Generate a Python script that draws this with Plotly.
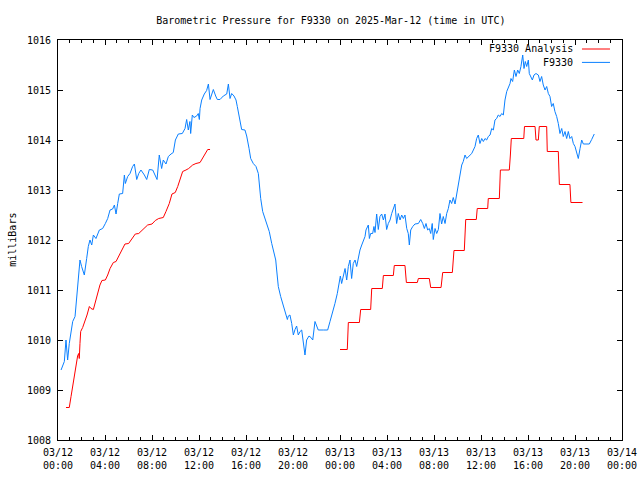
import pandas as pd
import plotly.graph_objects as go

# ---- data (hours after 2025-03-12 00:00 UTC, pressure in milliBars) ----
start_time = "2025-03-12 00:00"
x_range = ["2025-03-12 00:00", "2025-03-14 00:00"]
y_range = [1008, 1016]

station_hours = [
    0.26, 0.54, 0.68, 0.82, 0.96, 1.11, 1.25, 1.45, 1.59, 1.73, 1.87, 2.01, 2.24, 2.44, 2.58,
    2.72, 2.87, 3.01, 3.23, 3.52, 3.80, 4.03, 4.23, 4.43, 4.65, 4.80, 4.94, 5.08, 5.22, 5.50,
    5.65, 5.73, 5.93, 6.13, 6.35, 6.50, 6.70, 6.87, 7.06, 7.35, 7.55, 7.77, 8.06, 8.43, 8.62,
    8.82, 8.96, 9.19, 9.39, 9.62, 9.81, 9.99, 10.24, 10.58, 10.81, 10.95, 11.09, 11.23, 11.29,
    11.43, 11.57, 11.80, 11.94, 12.03, 12.09, 12.23, 12.45, 12.65, 12.80, 12.94, 13.11, 13.22,
    13.42, 13.56, 13.79, 14.07, 14.36, 14.50, 14.64, 14.78, 14.98, 15.15, 15.26, 15.49, 15.63,
    15.91, 16.06, 16.26, 16.40, 16.62, 16.85, 17.05, 17.13, 17.25, 17.42, 17.62, 17.81, 17.98,
    18.19, 18.38, 18.53, 18.61, 18.75, 18.95, 19.12, 19.32, 19.52, 19.60, 19.74, 19.89, 20.03,
    20.17, 20.31, 20.45, 20.60, 20.74, 20.88, 21.02, 21.16, 21.36, 21.53, 21.68, 21.87, 22.01,
    22.15, 22.58, 22.95, 23.15, 23.35, 23.57, 23.77, 23.94, 24.03, 24.14, 24.28, 24.43, 24.57,
    24.71, 24.85, 24.99, 25.13, 25.28, 25.42, 25.56, 25.70, 25.85, 25.98, 26.13, 26.21, 26.41,
    26.50, 26.61, 26.78, 26.89, 26.98, 27.12, 27.26, 27.40, 27.55, 27.69, 27.83, 27.97, 28.11,
    28.26, 28.40, 28.54, 28.68, 28.82, 28.96, 29.11, 29.25, 29.39, 29.53, 29.68, 29.81, 29.90,
    30.02, 30.19, 30.38, 30.67, 30.87, 31.04, 31.18, 31.32, 31.46, 31.60, 31.72, 31.85, 31.94,
    32.09, 32.23, 32.37, 32.51, 32.65, 32.79, 32.94, 33.08, 33.22, 33.36, 33.50, 33.64, 33.79,
    33.93, 34.07, 34.21, 34.36, 34.49, 34.64, 34.78, 34.92, 35.06, 35.21, 35.35, 35.49, 35.63,
    35.77, 35.91, 36.06, 36.20, 36.34, 36.48, 36.62, 36.77, 36.91, 37.05, 37.19, 37.33, 37.47,
    37.62, 37.76, 37.90, 38.04, 38.19, 38.32, 38.47, 38.55, 38.69, 38.84, 38.98, 39.12, 39.26,
    39.40, 39.55, 39.66, 39.77, 39.89, 40.03, 40.11, 40.23, 40.37, 40.51, 40.68, 40.88, 41.02,
    41.16, 41.30, 41.45, 41.59, 41.73, 41.87, 42.01, 42.15, 42.29, 42.44, 42.58, 42.72, 42.87,
    43.00, 43.15, 43.29, 43.43, 43.57, 43.72, 43.86, 44.00, 44.14, 44.28, 44.43, 44.57, 44.71,
    44.99, 45.22, 45.42, 45.64,
]
station_mb = [
    1009.40, 1009.57, 1010.00, 1009.60, 1009.93, 1010.20, 1010.37, 1010.47, 1010.87, 1011.20,
    1011.60, 1011.47, 1011.30, 1011.63, 1011.87, 1012.00, 1011.90, 1012.10, 1012.03, 1012.20,
    1012.23, 1012.33, 1012.43, 1012.60, 1012.62, 1012.70, 1012.52, 1012.73, 1012.92, 1012.93,
    1013.30, 1013.13, 1013.27, 1013.33, 1013.47, 1013.52, 1013.21, 1013.33, 1013.40, 1013.30,
    1013.21, 1013.41, 1013.40, 1013.21, 1013.70, 1013.43, 1013.60, 1013.52, 1013.67, 1013.72,
    1013.75, 1014.00, 1014.12, 1014.13, 1014.23, 1014.41, 1014.20, 1014.37, 1014.13, 1014.50,
    1014.45, 1014.48, 1014.53, 1014.41, 1014.63, 1014.80, 1014.92, 1014.99, 1015.12, 1014.81,
    1014.92, 1015.01, 1014.88, 1014.81, 1014.81, 1014.88, 1014.92, 1015.12, 1014.83, 1014.93,
    1014.88, 1014.80, 1014.67, 1014.40, 1014.21, 1014.20, 1014.08, 1013.83, 1013.63, 1013.53,
    1013.47, 1013.33, 1013.10, 1012.83, 1012.57, 1012.43, 1012.33, 1012.17, 1011.93, 1011.77,
    1011.60, 1011.40, 1011.07, 1010.87, 1010.73, 1010.53, 1010.41, 1010.48, 1010.50, 1010.33,
    1010.10, 1010.21, 1010.28, 1010.10, 1010.17, 1010.20, 1009.93, 1009.70, 1010.00, 1010.08,
    1010.05, 1010.00, 1010.37, 1010.30, 1010.20, 1010.20, 1010.20, 1010.37, 1010.52, 1010.73,
    1010.93, 1011.17, 1011.28, 1011.13, 1011.27, 1011.43, 1011.20, 1011.47, 1011.60, 1011.23,
    1011.53, 1011.60, 1011.47, 1011.67, 1011.80, 1011.90, 1012.00, 1012.07, 1012.20, 1012.30,
    1012.03, 1012.13, 1012.13, 1012.27, 1012.15, 1012.52, 1012.21, 1012.47, 1012.52, 1012.40,
    1012.52, 1012.21, 1012.33, 1012.40, 1012.53, 1012.63, 1012.72, 1012.33, 1012.53, 1012.40,
    1012.50, 1012.43, 1012.50, 1012.23, 1012.13, 1011.90, 1012.20, 1012.27, 1012.32, 1012.33,
    1012.41, 1012.33, 1012.23, 1012.33, 1012.20, 1012.23, 1012.13, 1012.33, 1012.01, 1012.23,
    1012.13, 1012.21, 1012.53, 1012.32, 1012.47, 1012.33, 1012.53, 1012.63, 1012.80, 1012.73,
    1012.85, 1012.72, 1012.93, 1013.10, 1013.37, 1013.50, 1013.57, 1013.70, 1013.63, 1013.67,
    1013.70, 1013.73, 1013.80, 1013.87, 1014.03, 1014.10, 1013.93, 1014.03, 1013.97, 1014.03,
    1014.00, 1014.07, 1014.10, 1014.23, 1014.20, 1014.40, 1014.43, 1014.50, 1014.47, 1014.53,
    1014.50, 1014.80, 1014.97, 1015.03, 1015.13, 1015.23, 1015.17, 1015.40, 1015.27, 1015.40,
    1015.33, 1015.47, 1015.70, 1015.43, 1015.57, 1015.47, 1015.60, 1015.33, 1015.27, 1015.20,
    1015.30, 1015.33, 1015.30, 1015.17, 1015.27, 1015.10, 1015.00, 1015.07, 1014.93, 1014.87,
    1014.67, 1014.73, 1014.57, 1014.47, 1014.33, 1014.13, 1014.23, 1014.07, 1014.17, 1014.03,
    1014.17, 1014.03, 1014.07, 1013.93, 1013.87, 1013.77, 1013.63, 1013.83, 1014.00, 1013.92,
    1013.92, 1013.92, 1014.01, 1014.12,
]

# None marks the gap in the analysis series
analysis_hours = [
    0.68, 0.96, 1.11, 1.25, 1.39, 1.53, 1.67, 1.76, 1.81, 1.87, 1.93, 2.10, 2.30, 2.47, 2.67,
    2.81, 3.01, 3.18, 3.38, 3.57, 3.74, 4.03, 4.23, 4.43, 4.71, 4.94, 5.22, 5.50, 5.70, 6.01,
    6.30, 6.58, 6.87, 7.20, 7.63, 8.00, 8.28, 8.57, 8.96, 9.19, 9.47, 9.70, 9.98, 10.19, 10.38,
    10.61, 10.89, 11.12, 11.46, 11.74, 12.09, 12.31, 12.60, 12.74, 12.94,
    None,
    24.00, 24.62, 24.71, 25.65, 25.76, 26.61, 26.70, 27.60, 27.69, 28.54, 28.62, 29.53, 29.65,
    30.58, 30.67, 31.60, 31.72, 32.60, 32.74, 33.56, 33.70, 34.58, 34.70, 35.60, 35.68, 36.57,
    36.62, 37.56, 37.65, 38.41, 38.50, 38.58, 39.64, 39.70, 40.60, 40.68, 40.88, 40.96, 41.59,
    41.64, 42.58, 42.67, 43.57, 43.65, 44.64,
]
analysis_mb = [
    1008.65, 1008.65, 1008.87, 1009.07, 1009.30, 1009.53, 1009.68, 1009.73, 1009.63, 1009.93,
    1010.17, 1010.25, 1010.37, 1010.50, 1010.67, 1010.63, 1010.61, 1010.77, 1010.93, 1011.10,
    1011.19, 1011.20, 1011.30, 1011.43, 1011.55, 1011.57, 1011.70, 1011.83, 1011.92, 1011.93,
    1012.03, 1012.12, 1012.13, 1012.20, 1012.30, 1012.32, 1012.39, 1012.43, 1012.45, 1012.57,
    1012.73, 1012.92, 1012.95, 1013.07, 1013.21, 1013.37, 1013.40, 1013.43, 1013.50, 1013.53,
    1013.55, 1013.63, 1013.75, 1013.81, 1013.81,
    None,
    1009.81, 1009.81, 1010.35, 1010.35, 1010.61, 1010.61, 1011.03, 1011.03, 1011.29, 1011.29,
    1011.49, 1011.49, 1011.15, 1011.15, 1011.23, 1011.23, 1011.05, 1011.05, 1011.35, 1011.35,
    1011.79, 1011.79, 1012.41, 1012.41, 1012.63, 1012.63, 1012.83, 1012.83, 1013.40, 1013.40,
    1013.70, 1014.03, 1014.03, 1014.27, 1014.27, 1014.00, 1014.00, 1014.27, 1014.27, 1013.77,
    1013.77, 1013.11, 1013.11, 1012.75, 1012.75,
]

title_text = "Barometric Pressure for F9330 on 2025-Mar-12 (time in UTC)"
y_title = "milliBars"
legend_labels = ["F9330 Analysis", "F9330"]
colors = ["#ff0000", "#0a80ff"]

# ---- build figure ----
base = pd.Timestamp(start_time)


def to_time(hours):
    return [None if h is None else base + pd.Timedelta(hours=h) for h in hours]


FONT = "DejaVu Sans Mono"
FS = 10
fig = go.Figure()
fig.add_trace(go.Scatter(
    x=to_time(station_hours), y=station_mb, mode="lines", name=legend_labels[1],
    line=dict(color=colors[1], width=1), showlegend=False,
))
fig.add_trace(go.Scatter(
    x=to_time(analysis_hours), y=analysis_mb, mode="lines", name=legend_labels[0],
    line=dict(color=colors[0], width=1), connectgaps=False, showlegend=False,
))

# legend drawn gnuplot-style: text right-aligned, sample line to its right
legend_rows_y = [0.9775, 0.944]
for label, color, yy in zip(legend_labels, colors, legend_rows_y):
    fig.add_annotation(x=0.9167, y=yy, xref="paper", yref="paper", text=label,
                       showarrow=False, xanchor="right", yanchor="middle",
                       font=dict(family=FONT, size=FS, color="black"))
    fig.add_shape(type="line", xref="paper", yref="paper", x0=0.929, x1=0.9787,
                  y0=yy, y1=yy, line=dict(color=color, width=1))

fig.add_annotation(x=-0.082, y=0.5, xref="paper", yref="paper", text=y_title,
                   textangle=-90, showarrow=False, xanchor="center", yanchor="middle",
                   font=dict(family=FONT, size=FS, color="black"))

fig.update_layout(
    width=640, height=480,
    margin=dict(l=58, r=18, t=40, b=40, autoexpand=False),
    paper_bgcolor="white", plot_bgcolor="white",
    font=dict(family=FONT, size=FS, color="black"),
    title=dict(text=title_text, x=0.517, xref="container", xanchor="center",
               y=1 - 20 / 480, yref="container", yanchor="middle",
               font=dict(family=FONT, size=FS, color="black")),
)
fig.update_xaxes(
    type="date", range=x_range, tick0=x_range[0], dtick=4 * 3600 * 1000,
    tickformat="%m/%d<br>%H:%M", ticks="inside", ticklen=5, tickcolor="black",
    showline=True, linecolor="black", linewidth=1, mirror="allticks",
    showgrid=False, zeroline=False, automargin=False, ticklabelstandoff=3,
    minor=dict(dtick=3600 * 1000, ticks="inside", ticklen=3, tickcolor="black", showgrid=False),
)
fig.update_yaxes(
    range=y_range, dtick=1, ticks="inside", ticklen=5, tickcolor="black",
    showline=True, linecolor="black", linewidth=1, mirror="allticks",
    showgrid=False, zeroline=False, ticklabelstandoff=4, automargin=False,
)

fig.write_html("out.html", config={"displayModeBar": False},
               post_script="document.body.style.margin='0px';")
